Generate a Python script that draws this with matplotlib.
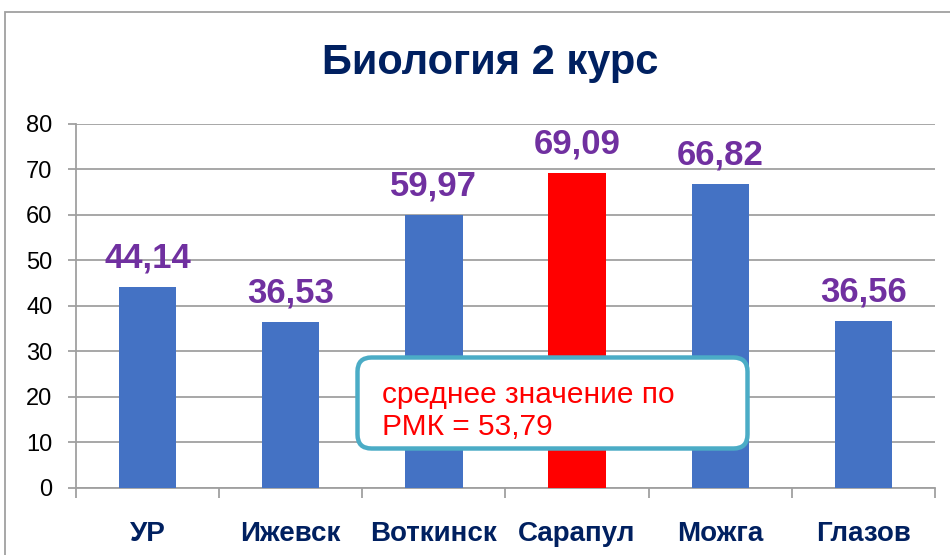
import matplotlib
matplotlib.use("Agg")
import matplotlib.pyplot as plt
from matplotlib.patches import FancyBboxPatch, Rectangle
import numpy as np

categories = ["УР", "Ижевск", "Воткинск", "Сарапул", "Можга", "Глазов"]
values = [44.14, 36.53, 59.97, 69.09, 66.82, 36.56]
value_labels = ["44,14", "36,53", "59,97", "69,09", "66,82", "36,56"]
highlight = "Сарапул"
title = "Биология 2 курс"
note_lines = ["среднее значение по", "РМК = 53,79"]
yticks = [0, 10, 20, 30, 40, 50, 60, 70, 80]

BLUE = "#4472C4"
RED = "#FF0000"
PURPLE = "#7030A0"
NAVY = "#002060"
GRID = "#A0A0A0"

plt.rcParams['font.family'] = ['Liberation Sans', 'DejaVu Sans']

fig = plt.figure(figsize=(9.5, 5.55), dpi=100)
ax = fig.add_axes([76/950, (555-488)/555, (935-76)/950, (488-123.5)/555])

x = np.arange(len(categories))
colors = [RED if c == highlight else BLUE for c in categories]
ax.bar(x, values, width=0.4, color=colors, zorder=3)

for xi, v, lab in zip(x, values, value_labels):
    ax.annotate(lab, (xi, v), xytext=(0, 14), textcoords="offset points",
                ha="center", va="baseline", fontsize=25, fontweight="bold",
                color=PURPLE, zorder=5)

ax.set_xlim(-0.5, len(categories) - 0.5)
ax.set_ylim(0, 80)
ax.set_yticks(yticks)
ax.set_yticklabels([str(t) for t in yticks], fontsize=17, color="black")
ax.yaxis.grid(True, color=GRID, linewidth=1.3, zorder=0)
ax.tick_params(axis="y", length=6, width=1.3, color=GRID, pad=11)

ax.set_xticks(x)
ax.set_xticklabels(categories, fontsize=20, fontweight="bold", color=NAVY)
ax.tick_params(axis="x", which="major", length=0, pad=24)
ax.set_xticks(np.arange(-0.5, len(categories)), minor=True)
ax.tick_params(axis="x", which="minor", length=7, width=1.3, color=GRID)

for s in ["top", "right"]:
    ax.spines[s].set_visible(False)
for s in ["left", "bottom"]:
    ax.spines[s].set_color(GRID)
    ax.spines[s].set_linewidth(1.3)

fig.text(490/950, 1 - 63/555, title, ha="center", va="center", fontsize=30,
         fontweight="bold", color=NAVY)

# outer chart border
fig.patches.append(Rectangle((0.05, -0.2), 9.7, 5.43 + 0.2, fill=False,
                             edgecolor=GRID, linewidth=1.3,
                             transform=fig.dpi_scale_trans))

# callout box
box = FancyBboxPatch((3.575, 1.065), 7.475 - 3.575, 1.975 - 1.065,
                     boxstyle="round,pad=0,rounding_size=0.14",
                     facecolor="white", edgecolor="#4BACC6", linewidth=3.2,
                     transform=fig.dpi_scale_trans, zorder=10)
fig.patches.append(box)
for i, line in enumerate(note_lines):
    fig.text(382/950, 1 - (403 + 32 * i)/555, line, ha="left", va="baseline",
             fontsize=21.5, color=RED, zorder=11)

fig.savefig("out.png", dpi=100)
